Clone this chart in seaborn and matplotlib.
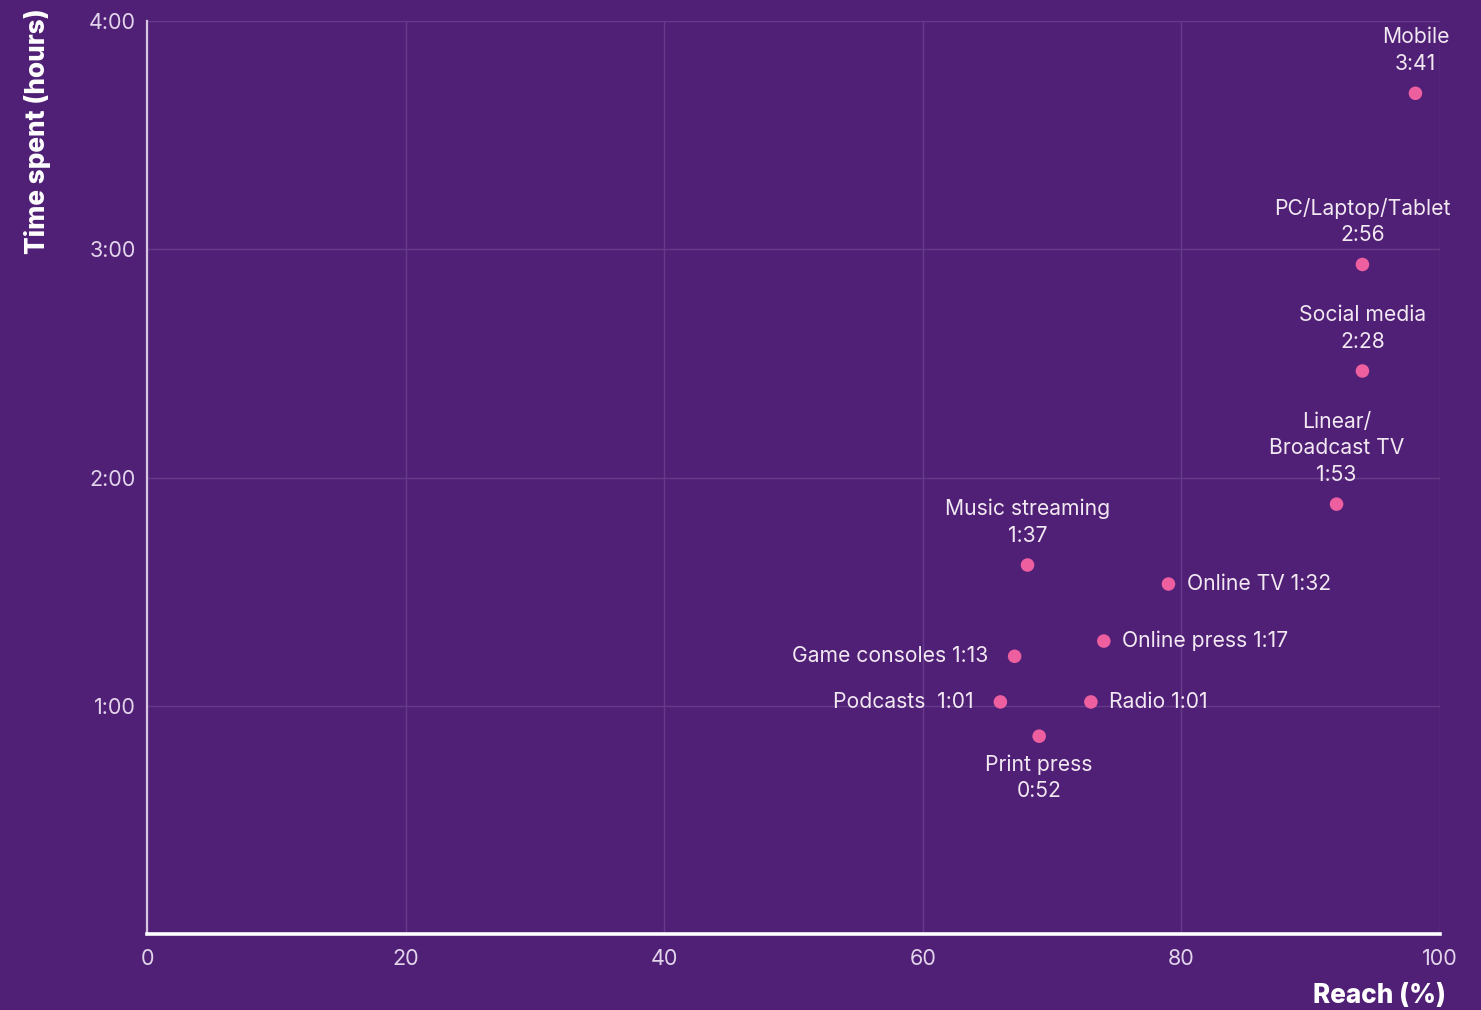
import matplotlib
matplotlib.use("Agg")
import matplotlib.pyplot as plt
import seaborn as sns
import pandas as pd

categories = ["Mobile", "PC/Laptop/Tablet", "Social media", "Linear/\nBroadcast TV",
              "Music streaming", "Online TV", "Online press", "Game consoles",
              "Podcasts ", "Radio", "Print press"]
reach = [98.1, 94.0, 94.0, 92.0, 68.1, 79.0, 74.0, 67.1, 66.0, 73.0, 69.0]
minutes = [221, 176, 148, 113, 97, 92, 77, 73, 61, 61, 52]
x_ticks = [0, 20, 40, 60, 80, 100]
y_ticks = [1, 2, 3, 4]
y_tick_labels = ["1:00", "2:00", "3:00", "4:00"]

BG = "#502076"
DOT = "#EE5FA0"
TXT = "#F2E8F2"
TICK = "#E2D4EA"
GRID = "#663A8A"

df = pd.DataFrame({"cat": categories, "reach": reach,
                   "hours": [m / 60 for m in minutes]})

sns.set_theme(style="white")
plt.rcParams["font.family"] = ["Inter", "DejaVu Sans"]

fig = plt.figure(figsize=(14.81, 10.10), dpi=100, facecolor=BG)
ax = fig.add_axes([147 / 1481, 1 - 934 / 1010, 1293 / 1481, 913 / 1010])
ax.set_facecolor(BG)

sns.scatterplot(data=df, x="reach", y="hours", ax=ax, color=DOT, s=95,
                edgecolor="none", zorder=3, legend=False)

ax.set_xlim(0, 100)
ax.set_ylim(0, 4)
ax.set_xticks(x_ticks)
ax.set_xticklabels([str(t) for t in x_ticks])
ax.set_yticks(y_ticks)
ax.set_yticklabels(y_tick_labels)
ax.tick_params(axis="x", length=0, pad=11, labelsize=15.5, labelcolor=TICK)
ax.tick_params(axis="y", length=0, pad=8, labelsize=15.5, labelcolor=TICK)
ax.grid(True, color=GRID, linewidth=1.0, zorder=0)
ax.set_axisbelow(True)
for s in ["top", "right"]:
    ax.spines[s].set_visible(False)
ax.spines["left"].set_color("#D6C6E2")
ax.spines["left"].set_linewidth(1.6)
ax.spines["bottom"].set_color("#FFFFFF")
ax.spines["bottom"].set_linewidth(2.6)
ax.set_xlabel("")
ax.set_ylabel("")

def fmt(m):
    return f"{m // 60}:{m % 60:02d}"

placement = {
    "Mobile": "above", "PC/Laptop/Tablet": "above", "Social media": "above",
    "Linear/\nBroadcast TV": "above", "Music streaming": "above",
    "Online TV": "right", "Online press": "right", "Game consoles": "left",
    "Podcasts ": "left", "Radio": "right", "Print press": "below",
}

FS = 15.2
for c, xr, m in zip(categories, reach, minutes):
    y = m / 60
    p = placement[c]
    if p == "above":
        ax.annotate(f"{c}\n{fmt(m)}", (xr, y), xytext=(0, 14), textcoords="offset points",
                    ha="center", va="bottom", fontsize=FS, color=TXT, linespacing=1.4)
    elif p == "below":
        ax.annotate(f"{c}\n{fmt(m)}", (xr, y), xytext=(0, -13), textcoords="offset points",
                    ha="center", va="top", fontsize=FS, color=TXT, linespacing=1.4)
    elif p == "right":
        ax.annotate(f"{c} {fmt(m)}", (xr, y), xytext=(13, 0), textcoords="offset points",
                    ha="left", va="center", fontsize=FS, color=TXT)
    else:
        ax.annotate(f"{c} {fmt(m)}", (xr, y), xytext=(-19, 0), textcoords="offset points",
                    ha="right", va="center", fontsize=FS, color=TXT)

fig.text(38 / 1481, 1 - 8 / 1010, "Time spent (hours)", rotation=90, ha="center",
         va="top", fontsize=18.8, fontweight="heavy", color="#FFFFFF")
fig.text(1446 / 1481, 1 - 996 / 1010, "Reach (%)", ha="right", va="center",
         fontsize=18.8, fontweight="heavy", color="#FFFFFF")

fig.savefig("out.png", dpi=100, facecolor=BG)
